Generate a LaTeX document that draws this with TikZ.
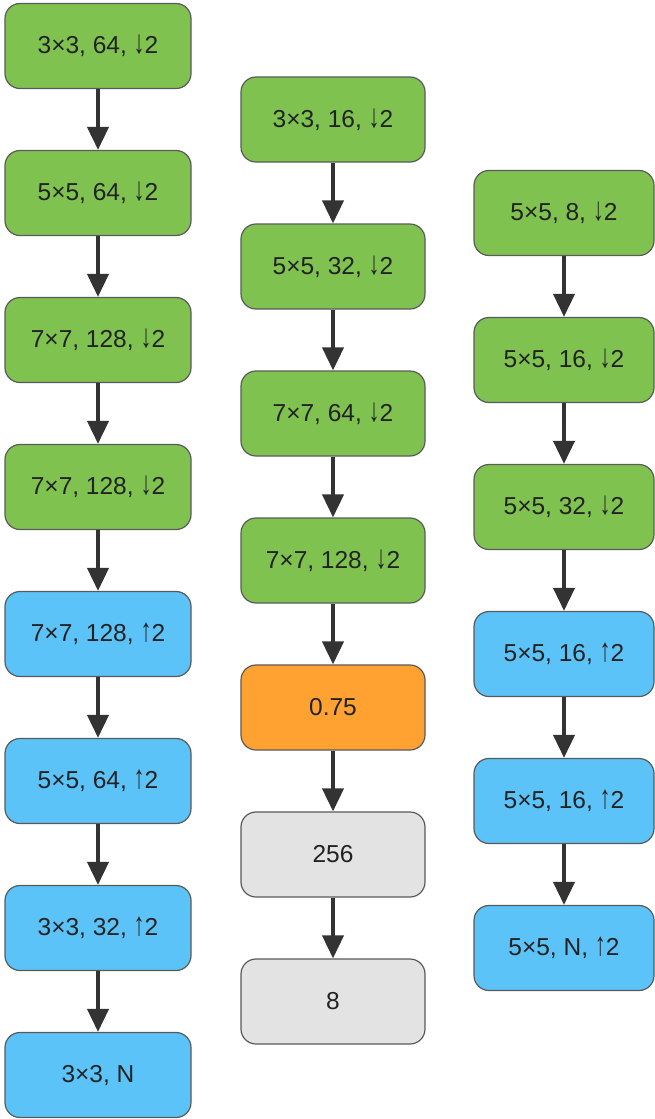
\documentclass[tikz,border=0pt]{standalone}
\usepackage{fontspec}
\setmainfont{Liberation Sans}
\usetikzlibrary{arrows.meta}
\definecolor{gfill}{HTML}{80C250}
\definecolor{bfill}{HTML}{5CC3F8}
\definecolor{ofill}{HTML}{FFA232}
\definecolor{gray1}{HTML}{E3E3E3}
\definecolor{edge}{HTML}{5A5A5A}
\definecolor{txt}{HTML}{222222}
\definecolor{arr}{HTML}{333333}
\newcommand{\dnarr}{\scalebox{0.9}[1.35]{↓}}
\newcommand{\uparr}{\scalebox{0.9}[1.35]{↑}}
\tikzset{
  box/.style={draw=edge, line width=1.2pt, rounded corners=15pt, minimum width=186pt,
    minimum height=85pt, inner sep=0pt, text=txt, font=\fontsize{24.5}{28}\selectfont},
  gbox/.style={box, fill=gfill},
  bbox/.style={box, fill=bfill},
  obox/.style={box, fill=ofill},
  ybox/.style={box, fill=gray1},
  conn/.style={draw=arr, line width=4pt, -{Triangle[length=23pt,width=21pt]}}
}
\begin{document}
\begin{tikzpicture}[x=1pt,y=-1pt]
\path[use as bounding box, fill=white] (0,0) rectangle (655,1119);
% column 1
\node[gbox] (a1) at (98,46) {3×3, 64, \dnarr2};
\node[gbox] (a2) at (98,193) {5×5, 64, \dnarr2};
\node[gbox] (a3) at (98,340) {7×7, 128, \dnarr2};
\node[gbox] (a4) at (98,487) {7×7, 128, \dnarr2};
\node[bbox] (a5) at (98,634) {7×7, 128, \uparr2};
\node[bbox] (a6) at (98,781) {5×5, 64, \uparr2};
\node[bbox] (a7) at (98,928) {3×3, 32, \uparr2};
\node[bbox] (a8) at (98,1075) {3×3, N};
% column 2
\node[gbox, minimum width=184pt] (b1) at (333,119.5) {3×3, 16, \dnarr2};
\node[gbox, minimum width=184pt] (b2) at (333,266.5) {5×5, 32, \dnarr2};
\node[gbox, minimum width=184pt] (b3) at (333,413.5) {7×7, 64, \dnarr2};
\node[gbox, minimum width=184pt] (b4) at (333,560.5) {7×7, 128, \dnarr2};
\node[obox, minimum width=184pt] (b5) at (333,707.5) {0.75};
\node[ybox, minimum width=184pt] (b6) at (333,854.5) {256};
\node[ybox, minimum width=184pt] (b7) at (333,1001.5) {8};
% column 3
\node[gbox, minimum width=180pt] (c1) at (564,213) {5×5, 8, \dnarr2};
\node[gbox, minimum width=180pt] (c2) at (564,360) {5×5, 16, \dnarr2};
\node[gbox, minimum width=180pt] (c3) at (564,507) {5×5, 32, \dnarr2};
\node[bbox, minimum width=180pt] (c4) at (564,654) {5×5, 16, \uparr2};
\node[bbox, minimum width=180pt] (c5) at (564,801) {5×5, 16, \uparr2};
\node[bbox, minimum width=180pt] (c6) at (564,948) {5×5, N, \uparr2};
% connectors
\foreach \u/\v in {a1/a2,a2/a3,a3/a4,a4/a5,a5/a6,a6/a7,a7/a8,
                   b1/b2,b2/b3,b3/b4,b4/b5,b5/b6,b6/b7,
                   c1/c2,c2/c3,c3/c4,c4/c5,c5/c6}
  \draw[conn] (\u.south) -- (\v.north);
\end{tikzpicture}
\end{document}
